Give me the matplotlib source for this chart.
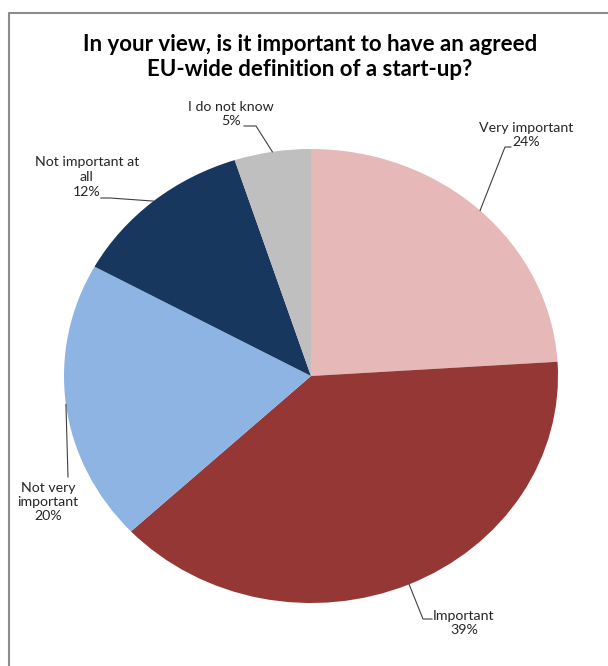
import numpy as np
import matplotlib.pyplot as plt
from matplotlib.lines import Line2D

W, H = 608, 666

# survey answers, clockwise from 12 o'clock
answers = ["Very important", "Important", "Not very important",
           "Not important at all", "I do not know"]
shares = [24, 39, 20, 12, 5]
label_texts = ["Very important\n24%", "Important\n39%", "Not very\nimportant\n20%",
               "Not important at\nall\n12%", "I do not know\n5%"]
colors = ["#E6B9B8", "#953735", "#8EB4E3", "#17375E", "#BFBFBF"]

title = "In your view, is it important to have an agreed\nEU-wide definition of a start-up?"

# pie centre and radii in pixels -> slightly wider than tall
cx, cy, rx, ry = 311, 376, 247, 227


def px(x, y):
    """pixel position -> pie data coordinates"""
    return (x - cx) / rx, (cy - y) / ry


# label centre and leader elbow/end points, in pixels
label_pos = [(526, 135), (464, 623), (48, 502), (87, 177), (231, 114)]
leaders = [
    [(505, 147), (511, 147)],
    [(423, 619), (432, 619)],
    [(68, 477)],
    [(110, 198), (101, 198)],
    [(256, 126), (244, 126)],
]

fig = plt.figure(figsize=(W / 100, H / 100), dpi=100)
fig.patch.set_facecolor("white")

ax = fig.add_axes([(cx - rx) / W, (H - cy - ry) / H, 2 * rx / W, 2 * ry / H])
ax.pie(shares, colors=colors, startangle=90, counterclock=False, radius=1,
       wedgeprops=dict(linewidth=0))
ax.set_aspect("auto")
ax.set_xlim(-1, 1)
ax.set_ylim(-1, 1)
ax.axis("off")

# leader lines start at the middle of each wedge
cum = np.cumsum([0] + shares)
for i, share in enumerate(shares):
    mid = np.deg2rad(90 - 360 * (cum[i] + share / 2) / 100)
    pts = [(np.cos(mid), np.sin(mid))] + [px(*p) for p in leaders[i]]
    xs, ys = zip(*pts)
    ax.plot(xs, ys, color="#404040", lw=0.8, clip_on=False)
    lx, ly = px(*label_pos[i])
    ax.text(lx, ly, label_texts[i], ha="center", va="center", fontsize=10.2,
            family="Lato", color="#262626", linespacing=1.25, clip_on=False)

fig.text(310 / W, 1 - 57 / H, title, ha="center", va="center", fontsize=16,
         fontweight="bold", family="Lato", color="black", linespacing=1.25)

# chart frame: only left and top edges are in view
fig.add_artist(Line2D([9 / W, 9 / W, 1], [0, 1 - 13 / H, 1 - 13 / H],
                      transform=fig.transFigure, color="#8c8c8c", lw=1.5))

fig.savefig("out.png", dpi=100)
